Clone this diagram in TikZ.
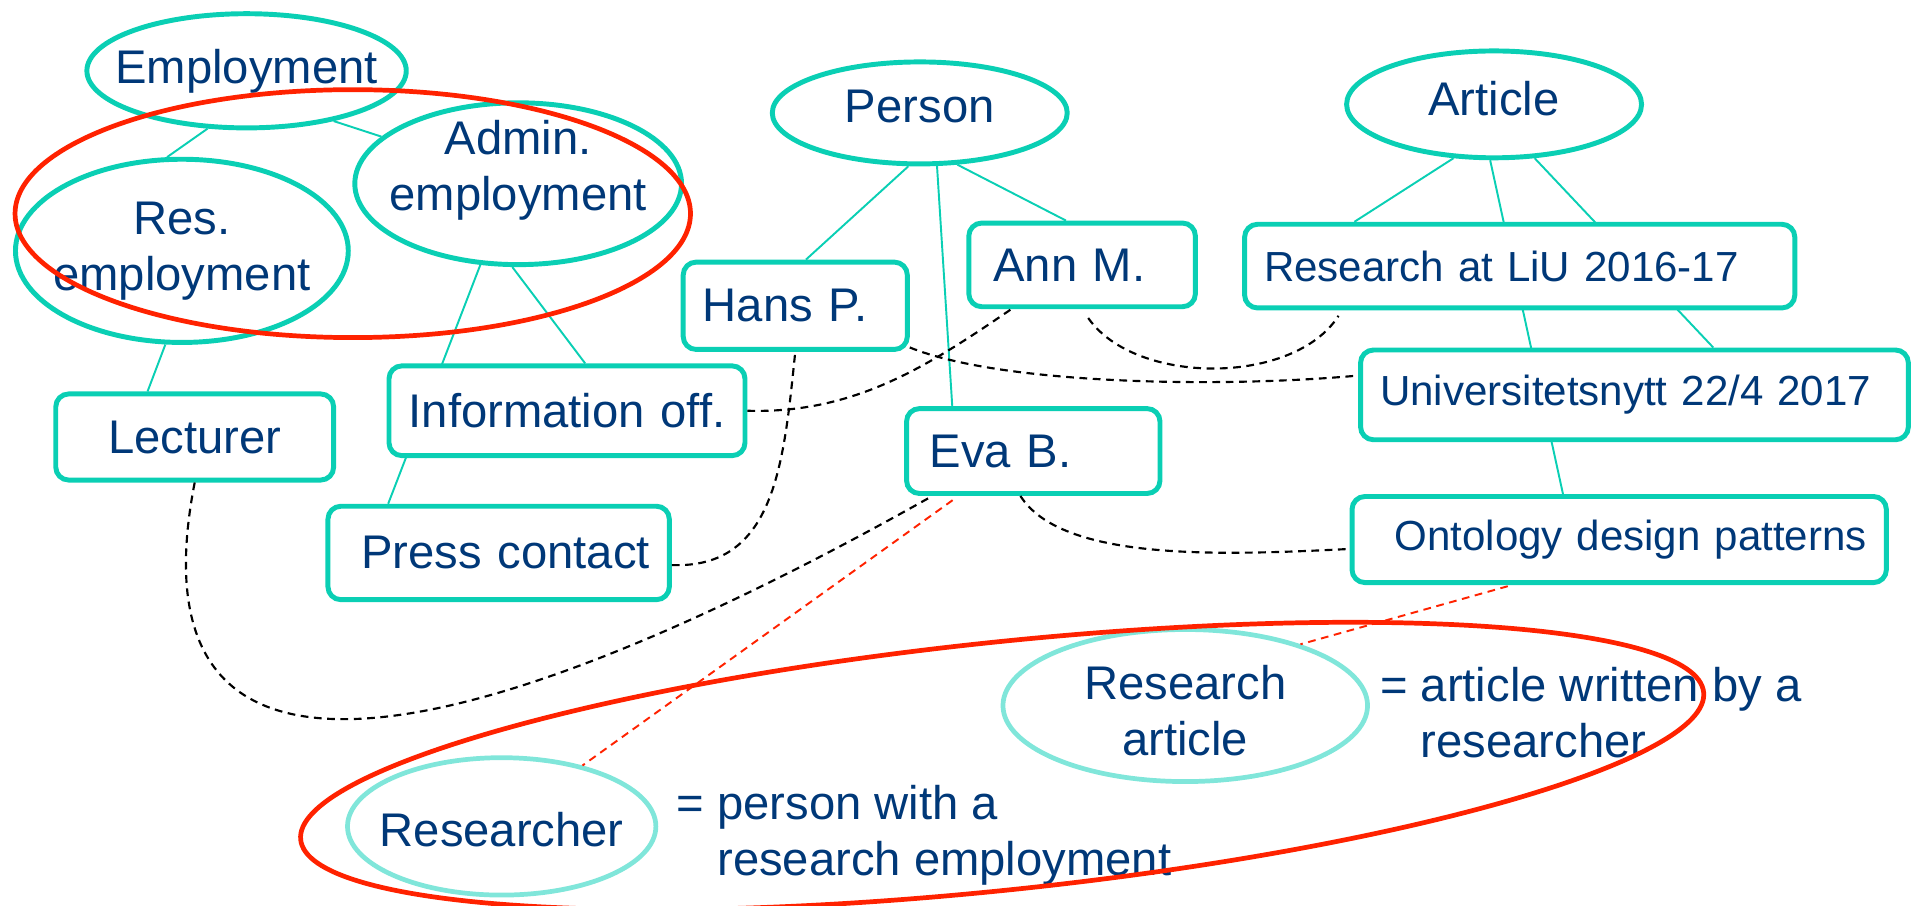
\documentclass[tikz,border=0pt]{standalone}
\usepackage{fontspec}
\setmainfont{Liberation Sans}
\usetikzlibrary{shapes.geometric,backgrounds}
\definecolor{tealc}{RGB}{10,207,180}
\definecolor{lteal}{RGB}{128,230,218}
\definecolor{navy}{RGB}{0,56,120}
\definecolor{redc}{RGB}{255,34,0}
\tikzset{
  cls/.style={ellipse, draw=tealc, line width=1.15pt, fill=white, inner sep=0pt},
  newcls/.style={ellipse, draw=lteal, line width=1.1pt, fill=white, inner sep=0pt},
  lbl/.style={text=navy, font=\fontsize{11pt}{13pt}\selectfont, align=center, inner sep=0pt},
  inst/.style={draw=tealc, line width=1.15pt, rounded corners=3pt, fill=white, text=navy,
    font=\fontsize{11pt}{13pt}\selectfont, inner ysep=0pt, inner xsep=0.16cm, align=left},
  small/.style={font=\fontsize{9.8pt}{12pt}\selectfont},
  lnk/.style={tealc, line width=0.45pt},
  rel/.style={black, line width=0.5pt, dash pattern=on 1.8pt off 1.3pt},
  redrel/.style={redc, line width=0.45pt, dash pattern=on 1.8pt off 1.3pt},
  grp/.style={ellipse, draw=redc, line width=1.1pt, inner sep=0pt},
  defn/.style={text=navy, font=\fontsize{11pt}{13pt}\selectfont, inner sep=0pt, anchor=base west}
}
\begin{document}
\begin{tikzpicture}[x=0.01cm, y=-0.01cm]
\useasboundingbox (0,0) rectangle (1568,742);
% classes
\node[cls, minimum width=2.615cm, minimum height=0.935cm, label={[lbl]center:Employment}] (emp) at (202,58) {};
\node[cls, minimum width=2.725cm, minimum height=1.5cm, label={[lbl]center:Res.\\employment}] (resemp) at (149,205.5) {};
\node[cls, minimum width=2.675cm, minimum height=1.325cm, label={[lbl, yshift=0.107cm]center:Admin.\\employment}] (admin) at (424.5,150.5) {};
\node[cls, minimum width=2.415cm, minimum height=0.835cm, label={[lbl, yshift=0.053cm]center:Person}] (person) at (753.5,92.5) {};
\node[cls, minimum width=2.415cm, minimum height=0.875cm, label={[lbl, yshift=0.05cm]center:Article}] (article) at (1224,85.5) {};
% instances
\node[inst, text width=1.955cm, minimum height=0.705cm, align=center] (lecturer) at (159.5,358) {Lecturer};
\node[inst, inner xsep=0.1cm, text width=2.715cm, minimum height=0.735cm, align=center] (infooff) at (464.5,336.5) {Information off.};
\node[inst, text width=2.475cm, minimum height=0.765cm, align=right] (press) at (408.5,453) {Press contact};
\node[inst, text width=1.515cm, minimum height=0.715cm] (hans) at (651.5,250.5) {Hans P.};
\node[inst, inner xsep=0.2cm, text width=1.455cm, minimum height=0.685cm] (ann) at (886.5,217) {Ann M.};
\node[inst, inner xsep=0.19cm, text width=1.695cm, minimum height=0.695cm] (eva) at (846.5,369.5) {Eva B.};
\node[inst, small, text width=4.185cm, minimum height=0.685cm] (resliu) at (1245,218) {Research at LiU 2016-17};
\node[inst, small, text width=4.165cm, minimum height=0.735cm] (univ) at (1339,323.5) {Universitetsnytt 22/4 2017};
\node[inst, small, text width=4.055cm, minimum height=0.705cm, align=right] (onto) at (1326.5,442) {Ontology design patterns};
% new classes
\node[newcls, minimum width=2.985cm, minimum height=1.245cm, label={[lbl, yshift=-0.04cm]center:Research\\article}] (resart) at (971,578) {};
\node[newcls, minimum width=2.525cm, minimum height=1.125cm, label={[lbl, yshift=-0.03cm]center:Researcher}] (researcher) at (411,677) {};
\node[defn] (defart) at (1130,574.8) {=~\begin{tabular}[t]{@{}l@{}}article written by a\\researcher\end{tabular}};
\node[defn] (defres) at (553.6,671.7) {=~\begin{tabular}[t]{@{}l@{}}person with a\\research employment\end{tabular}};
% subclass links, behind the nodes
\begin{scope}[on background layer]
\draw[lnk] (emp.236) -- (resemp.99);
\draw[lnk] (emp.-30) -- (admin.161);
\draw[lnk] (resemp.260) -- (lecturer.136);
\draw[lnk] (admin.245) -- (press.156);
\draw[lnk] (admin.266) -- (infooff.69);
\draw[lnk] (person.258) -- (hans.77);
\draw[lnk] (person.-72) -- (eva.151);
\draw[lnk] (person.-54) -- (ann.110);
\draw[lnk] (article.233) -- (resliu.165);
\draw[lnk] (article.266) -- (onto.141);
\draw[lnk] (article.-53) -- (univ.31);
\end{scope}
% relations
\draw[rel] (lecturer.south) .. controls (100,700) and (420,600) .. (eva.204);
\draw[rel] (press.-4) .. controls (635,466) and (642,380) .. (hans.south);
\draw[rel] (infooff.east) .. controls (700,339) and (760,300) .. (ann.212);
\draw[rel] (hans.-20) .. controls (820,315) and (1000,318) .. (univ.176);
\draw[rel, shorten <=2.5pt, shorten >=1.5pt] (ann.south) .. controls (930,316) and (1060,316) .. (resliu.194);
\draw[rel] (eva.254) .. controls (870,460) and (1000,455) .. (onto.182);
\draw[redrel, shorten <=1.7pt] (eva.211.5) -- (researcher.37);
\draw[redrel, shorten <=1pt] (onto.203) -- (resart.28);
% groups
\node[grp, minimum width=5.53cm, minimum height=2.03cm] (grpemp) at (289,175) {};
\node[grp, minimum width=11.55cm, minimum height=2.03cm, rotate=6] (grpnew) at (821,627.5) {};
\end{tikzpicture}
\end{document}
